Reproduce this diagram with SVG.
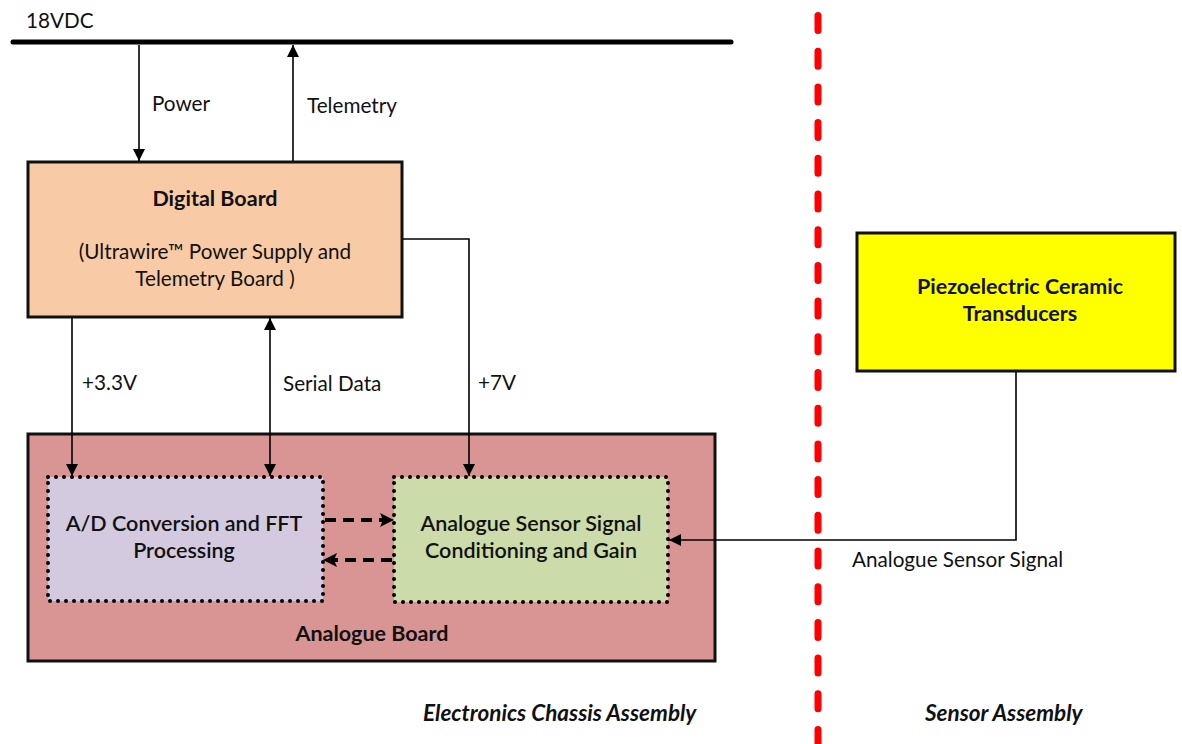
<svg xmlns="http://www.w3.org/2000/svg" width="1182" height="744" viewBox="0 0 1182 744">
<style>
text{font-family:Lato,"Noto Sans","Liberation Sans",sans-serif;fill:#111;}
.lbl{font-size:20.7px;}
.b{font-size:21.5px;font-weight:bold;}
.sb{font-size:21.5px;font-weight:600;}
.it{font-size:22.5px;font-style:italic;font-weight:bold;}
.box{stroke:#111;stroke-width:3;}
.dot{stroke:#000;stroke-width:4;stroke-dasharray:0 8;stroke-linecap:round;}
.ln{stroke:#000;stroke-width:1.6;fill:none;}
.dash{stroke:#000;stroke-width:4;fill:none;stroke-dasharray:11 7;}
</style>
<defs>
<marker id="ah" markerWidth="12" markerHeight="12" viewBox="0 0 12 12" refX="12" refY="6" orient="auto-start-reverse" markerUnits="userSpaceOnUse">
<path d="M0,0 L12,6 L0,12 Z" fill="#000"/>
</marker>
<marker id="ahb" markerWidth="14" markerHeight="14" viewBox="0 0 14 14" refX="13" refY="7" orient="auto" markerUnits="userSpaceOnUse">
<path d="M0,0 L14,7 L0,14 L3,7 Z" fill="#000"/>
</marker>
</defs>

<g id="bus">
<line x1="13" y1="42" x2="731" y2="42" stroke="#000" stroke-width="5" stroke-linecap="round"/>
<text class="lbl" x="26" y="28">18VDC</text>
</g>

<g id="divider">
<line x1="818" y1="15.5" x2="818" y2="744" stroke="#ff0000" stroke-width="7" stroke-linecap="round" stroke-dasharray="15 20.7"/>
</g>

<g id="digital-board">
<rect class="box" x="28" y="162" width="374" height="155" fill="#F8CBA6"/>
<text class="b" x="215" y="206" text-anchor="middle">Digital Board</text>
<text class="lbl" x="215" y="259" text-anchor="middle">(Ultrawire™ Power Supply and</text>
<text class="lbl" x="215" y="286" text-anchor="middle">Telemetry Board )</text>
</g>

<g id="analogue-board">
<rect class="box" x="28" y="434" width="687" height="227" fill="#D99594"/>
<text class="b" x="372" y="641" text-anchor="middle">Analogue Board</text>
</g>

<g id="ad-conversion">
<rect x="48" y="477" width="275" height="124" fill="#D3CADF"/>
<rect class="dot" x="48" y="477" width="275" height="124" fill="none"/>
<text class="sb" x="184" y="531" text-anchor="middle">A/D Conversion and FFT</text>
<text class="sb" x="184" y="558" text-anchor="middle">Processing</text>
</g>

<g id="signal-conditioning">
<rect x="394" y="477" width="274" height="125" fill="#CBDBA9"/>
<rect class="dot" x="394" y="477" width="274" height="125" fill="none"/>
<text class="sb" x="531" y="531" text-anchor="middle">Analogue Sensor Signal</text>
<text class="sb" x="531" y="558" text-anchor="middle">Conditioning and Gain</text>
</g>

<g id="transducers">
<rect class="box" x="857" y="233" width="318" height="138" fill="#FFFF00"/>
<text class="b" x="1020" y="294" text-anchor="middle">Piezoelectric Ceramic</text>
<text class="b" x="1020" y="321" text-anchor="middle">Transducers</text>
</g>

<g id="connectors">
<line class="ln" x1="139" y1="45" x2="139" y2="161" marker-end="url(#ah)"/>
<line class="ln" x1="293" y1="161" x2="293" y2="45" marker-end="url(#ah)"/>
<line class="ln" x1="72" y1="318" x2="72" y2="476" marker-end="url(#ah)"/>
<line class="ln" x1="270" y1="318" x2="270" y2="476" marker-start="url(#ah)" marker-end="url(#ah)"/>
<polyline class="ln" points="403,239 469,239 469,476" marker-end="url(#ah)"/>
<polyline class="ln" points="1016,372 1016,540 669,540" marker-end="url(#ah)"/>
<line class="dash" x1="325" y1="520" x2="393" y2="520" marker-end="url(#ahb)"/>
<line class="dash" x1="392" y1="560" x2="324" y2="560" marker-end="url(#ahb)"/>
<text class="lbl" x="152" y="111">Power</text>
<text class="lbl" x="307" y="113">Telemetry</text>
<text class="lbl" x="82" y="390">+3.3V</text>
<text class="lbl" x="283" y="391">Serial Data</text>
<text class="lbl" x="478" y="390">+7V</text>
<text class="lbl" x="852" y="567">Analogue Sensor Signal</text>
</g>

<g id="zone-labels">
<text class="it" x="423" y="721">Electronics Chassis Assembly</text>
<text class="it" x="925" y="721">Sensor Assembly</text>
</g>
</svg>
